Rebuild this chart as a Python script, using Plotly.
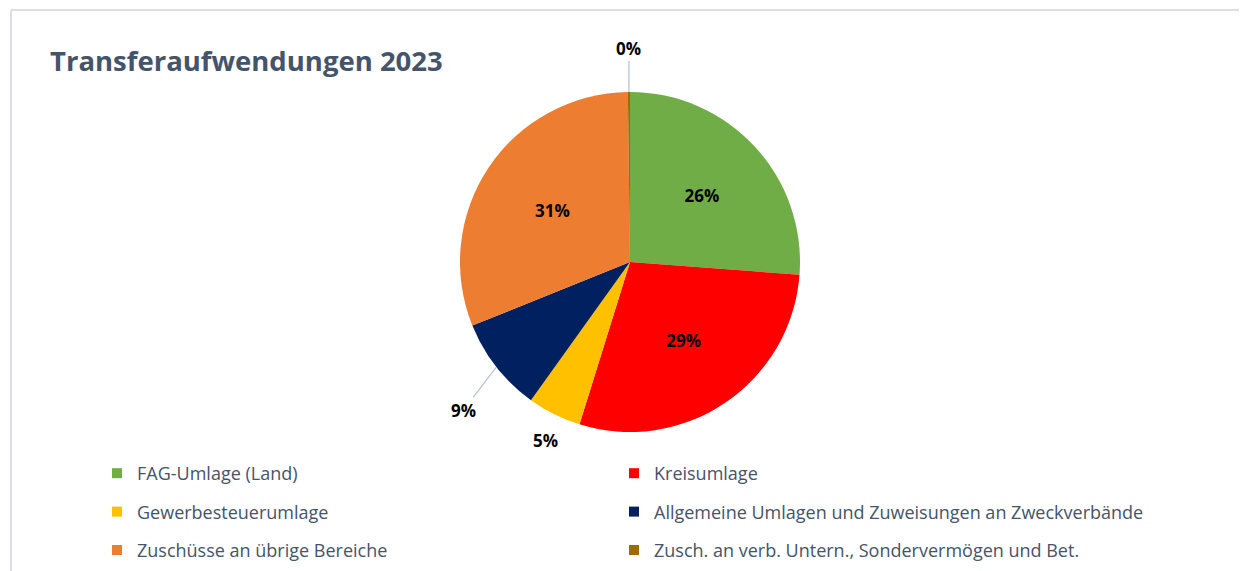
"""
Transferaufwendungen 2023 - Kreisdiagramm.
"""
import math
import plotly.graph_objects as go

# Daten
labels = [
    'FAG-Umlage (Land)',
    'Kreisumlage',
    'Gewerbesteuerumlage',
    'Allgemeine Umlagen und Zuweisungen an Zweckverbände',
    'Zuschüsse an übrige Bereiche',
    'Zusch. an verb. Untern., Sondervermögen und Bet.',
]
values = [26.2, 28.6, 5.1, 9.0, 30.9, 0.2]
colors = ['#70AD47', '#FF0000', '#FFC000', '#002060', '#ED7D31', '#9E6B00']
text_pos = ['inside', 'inside', 'none', 'none', 'inside', 'none']

TEXT = '#44546A'
FONT = 'Open Sans, sans-serif'

# page body has an 8px margin -> figure is a bit smaller than the window
W, H = 1239, 563
OFF = 8


def px_x(x):
    return (x - OFF) / W


def px_y(y):
    return 1 - (y - OFF) / H


# pie placement (window pixels)
CX, CY, R = 630, 262, 170

fig = go.Figure()

fig.add_trace(go.Pie(
    labels=labels,
    values=values,
    sort=False,
    direction='clockwise',
    rotation=0,
    marker=dict(colors=colors, line=dict(width=0)),
    texttemplate='%{percent:.0%}',
    textposition=text_pos,
    insidetextorientation='horizontal',
    textfont=dict(family=FONT, size=17, color='black', weight='bold'),
    domain=dict(x=[px_x(CX - R), px_x(CX + R)], y=[px_y(CY + R), px_y(CY - R)]),
    showlegend=False,
    hoverinfo='label+percent',
))

# Beschriftungen außen für die kleinen Segmente (mit/ohne Führungslinie)
total = sum(values)
outside = {2: (-9, 26, False), 3: (-33, 43, True), 5: (0, -44, True)}
annotations = []
cum = 0
for i, v in enumerate(values):
    if i in outside:
        ang = 2 * math.pi * (cum + v / 2) / total
        hx = CX + R * math.sin(ang)
        hy = CY - R * math.cos(ang)
        ax, ay, line = outside[i]
        annotations.append(dict(
            x=px_x(hx), y=px_y(hy), xref='paper', yref='paper',
            text=f'<b>{v / total:.0%}</b>',
            font=dict(family=FONT, size=17, color='black'),
            showarrow=True, arrowhead=0, arrowwidth=1.2,
            arrowcolor='#B4C0D4' if line else 'rgba(0,0,0,0)',
            ax=ax, ay=ay, standoff=0,
        ))
    cum += v

# Legende in zwei Spalten (Platzhalter-Spuren)
for i, (name, col) in enumerate(zip(labels, colors)):
    fig.add_trace(go.Scatter(
        x=[None], y=[None], mode='markers', name=name,
        marker=dict(symbol='square', size=10, color=col),
        legend='legend' if i % 2 == 0 else 'legend2',
        legendgroup=name,
    ))

leg = dict(
    orientation='v',
    yanchor='top',
    xanchor='left',
    font=dict(family=FONT, size=18, color=TEXT),
    bgcolor='rgba(0,0,0,0)',
    tracegroupgap=12,
    itemwidth=30,
)

fig.update_layout(
    width=W,
    height=H,
    margin=dict(l=0, r=0, t=0, b=0),
    paper_bgcolor='white',
    plot_bgcolor='white',
    title=dict(
        text='<b>Transferaufwendungen 2023</b>',
        x=px_x(50), xanchor='left',
        y=px_y(61), yanchor='middle',
        font=dict(family=FONT, size=27.5, color=TEXT),
    ),
    xaxis=dict(visible=False),
    yaxis=dict(visible=False),
    legend=dict(leg, x=px_x(97), y=px_y(455)),
    legend2=dict(leg, x=px_x(614), y=px_y(455)),
    annotations=annotations,
    shapes=[
        dict(type='line', xref='paper', yref='paper',
             x0=px_x(11), x1=1, y0=px_y(10), y1=px_y(10),
             line=dict(color='#D9DEE8', width=2)),
        dict(type='line', xref='paper', yref='paper',
             x0=px_x(11), x1=px_x(11), y0=0, y1=px_y(10),
             line=dict(color='#D9DEE8', width=2)),
    ],
)

fig.write_html("out.html")
